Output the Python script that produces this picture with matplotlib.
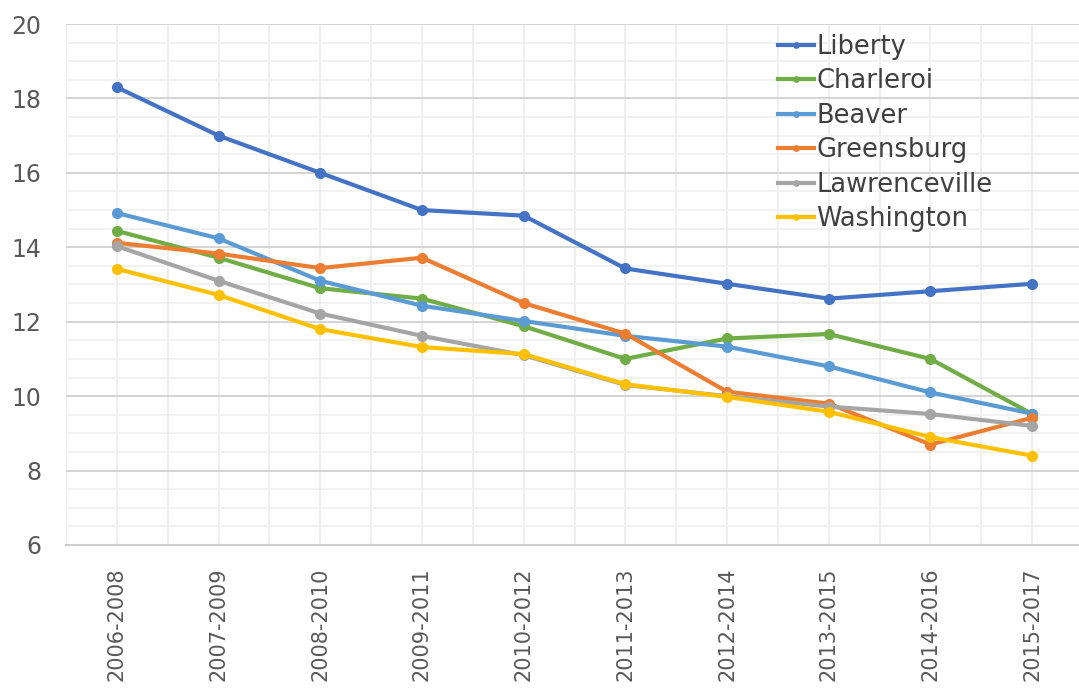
import matplotlib
matplotlib.use("Agg")
import matplotlib.pyplot as plt
from matplotlib.ticker import MultipleLocator

periods = ["2006-2008", "2007-2009", "2008-2010", "2009-2011", "2010-2012",
           "2011-2013", "2012-2014", "2013-2015", "2014-2016", "2015-2017"]

liberty = [18.3, 17.0, 16.0, 15.0, 14.85, 13.43, 13.02, 12.62, 12.82, 13.02]
charleroi = [14.44, 13.72, 12.9, 12.62, 11.88, 11.0, 11.55, 11.67, 11.0, 9.52]
beaver = [14.92, 14.24, 13.1, 12.43, 12.02, 11.62, 11.33, 10.8, 10.1, 9.53]
greensburg = [14.12, 13.83, 13.44, 13.72, 12.5, 11.68, 10.12, 9.8, 8.7, 9.42]
lawrenceville = [14.03, 13.1, 12.22, 11.62, 11.1, 10.3, 10.0, 9.72, 9.52, 9.2]
washington = [13.42, 12.72, 11.8, 11.32, 11.13, 10.32, 9.98, 9.58, 8.9, 8.4]

series = [
    ("Liberty", liberty, "#4472C4"),
    ("Charleroi", charleroi, "#70AD47"),
    ("Beaver", beaver, "#5B9BD5"),
    ("Greensburg", greensburg, "#ED7D31"),
    ("Lawrenceville", lawrenceville, "#A5A5A5"),
    ("Washington", washington, "#FFC000"),
]

text_color = "#595959"

fig = plt.figure(figsize=(10.79, 6.88), dpi=100)
ax = fig.add_axes([66 / 1079, (688 - 545) / 688, 1017 / 1079, 521 / 688])

x = list(range(len(periods)))
for name, vals, color in series:
    ax.plot(x, vals, color=color, lw=3.0, marker="o", ms=7,
            label=name, solid_joinstyle="round", zorder=3)

ax.set_xlim(-0.5, len(periods) - 0.5)
ax.set_ylim(6, 20)

ax.yaxis.set_major_locator(MultipleLocator(2))
ax.yaxis.set_minor_locator(MultipleLocator(0.5))
ax.set_xticks(x)
ax.set_xticklabels(periods, rotation=90, fontsize=15, color=text_color)
ax.xaxis.set_minor_locator(MultipleLocator(0.5))

for lbl in ax.get_yticklabels():
    lbl.set_fontsize(17)
    lbl.set_color(text_color)

ax.tick_params(axis="both", which="both", length=0)
ax.tick_params(axis="y", pad=18)
ax.tick_params(axis="x", pad=16)

ax.grid(True, which="major", axis="y", color="#D4D4D4", lw=1.4, zorder=1)
ax.grid(True, which="minor", axis="y", color="#EFEFEF", lw=1.1, zorder=0)
ax.grid(True, which="both", axis="x", color="#EBEBEB", lw=1.1, zorder=0)

for side in ["top", "right", "left"]:
    ax.spines[side].set_visible(False)
ax.spines["bottom"].set_color("#CFCFCF")
ax.spines["bottom"].set_linewidth(1.5)

leg = ax.legend(loc="upper left", bbox_to_anchor=(760 / 1079, 1 - 16 / 688),
                bbox_transform=fig.transFigure, frameon=False,
                fontsize=18.5, handlelength=1.4, handletextpad=0.1,
                labelspacing=0.33, markerscale=0.55, borderpad=0.2)
for t in leg.get_texts():
    t.set_color("#404040")

fig.savefig("out.png", dpi=100, facecolor="white")
